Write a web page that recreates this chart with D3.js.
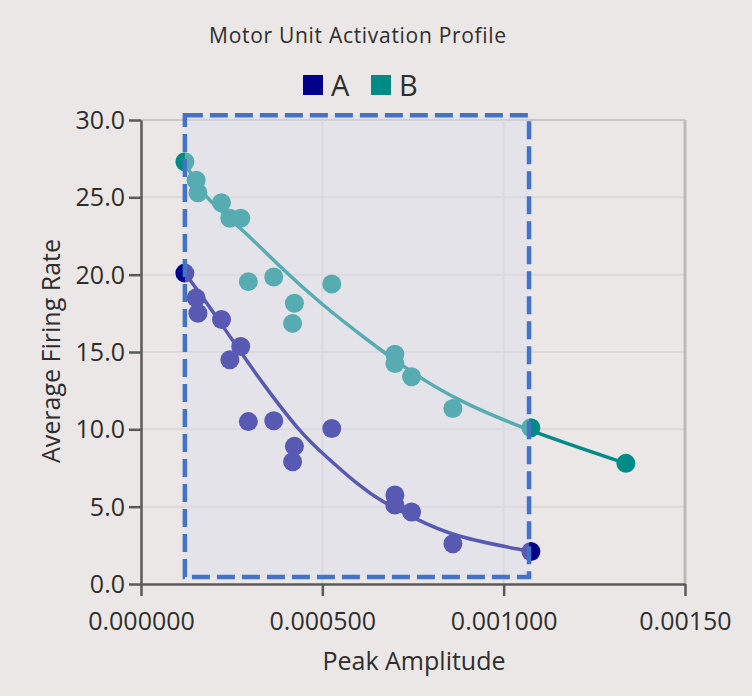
<!DOCTYPE html>
<html>
<head>
<meta charset="utf-8">
<script src="https://cdn.jsdelivr.net/npm/d3@7"></script>
<style>
  body { margin: 0; background: #ebe7e6; }
  text { font-family: "Open Sans", "Noto Sans", sans-serif; fill: #2e2e2e; }
</style>
</head>
<body>
<div id="app"></div>
<script>
const margin = { left: 141, top: 120, right: 67, bottom: 112 };
const bounds = {
    width: 752 - margin.left - margin.right,
    height: 696 - margin.top - margin.bottom
};

// data
const seriesNames = ["A", "B"];
const colors = { A: "#00008b", B: "#008b87" };
const peakAmp = [0.000121, 0.000152, 0.000157, 0.000222, 0.000245, 0.000275, 0.000296, 0.000366,
    0.000423, 0.000418, 0.000526, 0.000700, 0.000700, 0.000746, 0.000860, 0.001075, 0.001337];
const rateA = [20.1, 18.5, 17.5, 17.1, 14.5, 15.35, 10.5, 10.55, 8.9, 7.9, 10.05, 5.75, 5.1, 4.65, 2.6, 2.1];
const rateB = [27.3, 26.1, 25.3, 24.65, 23.65, 23.65, 19.55, 19.85, 18.15, 16.85, 19.4, 14.85, 14.25,
    13.4, 11.35, 10.1, 7.8];
// fitted trend lines
const trendAx = [0.000121, 0.00019, 0.000245, 0.000328, 0.000438, 0.000512, 0.000604, 0.000659, 0.00075, 0.00086, 0.001075];
const trendAy = [20.1, 17.9, 16.0, 13.2, 9.8, 8.2, 6.3, 5.4, 4.3, 3.05, 2.1];
const trendBx = [0.00012, 0.000172, 0.000273, 0.000383, 0.000494, 0.000622, 0.00075, 0.00087, 0.001063, 0.001337];
const trendBy = [27.3, 25.0, 23.1, 20.5, 18.15, 15.8, 13.6, 11.9, 9.95, 7.8];
// brush selection (data units)
const selX = [0.000121, 0.00107];
const selY = [0.45, 30.3];

const xTicks = [0, 0.0005, 0.001, 0.0015];
const xTickLabels = ["0.000000", "0.000500", "0.001000", "0.00150"];
const yTicks = [0, 5, 10, 15, 20, 25, 30];

const root = d3.select('#app')
    .append('svg')
    .attr('width', 752)
    .attr('height', 696)

root.append('rect').attr('width', 752).attr('height', 696).attr('fill', '#ebe7e6')

const svg = root.append('g')
    .attr('transform', `translate(${margin.left},${margin.top})`)

const xScale = d3.scaleLinear().domain([0, 0.0015]).range([0, bounds.width])
const yScale = d3.scaleLinear().domain([0, 30]).range([bounds.height, 0])

// grid
svg.selectAll('.hgrid').data(yTicks.filter(d => d > 0)).join('line')
    .attr('x1', 0).attr('x2', bounds.width)
    .attr('y1', d => yScale(d)).attr('y2', d => yScale(d))
    .attr('stroke', d => d === 30 ? '#c9c6c5' : '#dcd8d7')
    .attr('stroke-width', 2)
svg.selectAll('.vgrid').data(xTicks.filter(d => d > 0)).join('line')
    .attr('y1', 0).attr('y2', bounds.height)
    .attr('x1', d => xScale(d)).attr('x2', d => xScale(d))
    .attr('stroke', d => d === 0.0015 ? '#bdbab9' : '#dcd8d7')
    .attr('stroke-width', d => d === 0.0015 ? 3 : 2)

// axes
const xAxis = svg.append('g')
    .attr('transform', `translate(0,${bounds.height})`)
    .call(d3.axisBottom(xScale).tickValues(xTicks).tickSize(12).tickSizeOuter(0)
        .tickFormat((d, i) => xTickLabels[i]))
const yAxis = svg.append('g')
    .call(d3.axisLeft(yScale).tickValues(yTicks).tickSize(12).tickSizeOuter(0)
        .tickFormat(d3.format('.1f')))

;[xAxis, yAxis].forEach(a => {
    a.select('.domain').attr('stroke', '#5a5a5a').attr('stroke-width', 2.5)
    a.selectAll('.tick line').attr('stroke', '#5a5a5a').attr('stroke-width', 2.5)
    a.selectAll('.tick text').style('font-size', '25px').attr('fill', '#2e2e2e')
        .style('font-family', '"Open Sans", sans-serif')
})
xAxis.selectAll('.tick text').attr('y', 28).attr('dy', '0.71em')
yAxis.selectAll('.tick text').attr('x', -16).attr('dy', '0.34em')

// trend lines
const line = d3.line().x(d => xScale(d[0])).y(d => yScale(d[1])).curve(d3.curveBasis)
const trends = { A: d3.zip(trendAx, trendAy), B: d3.zip(trendBx, trendBy) }
seriesNames.slice().reverse().forEach(s => {
    svg.append('path')
        .attr('d', line(trends[s]))
        .attr('fill', 'none')
        .attr('stroke', colors[s])
        .attr('stroke-width', 3.5)
})

// points
const points = [
    ...rateA.map((v, i) => ({ s: 'A', x: peakAmp[i], y: v })),
    ...rateB.map((v, i) => ({ s: 'B', x: peakAmp[i], y: v }))
]
svg.selectAll('.dot').data(points).join('circle')
    .attr('class', 'dot')
    .attr('cx', d => xScale(d.x))
    .attr('cy', d => yScale(d.y))
    .attr('r', 9.5)
    .attr('fill', d => colors[d.s])

// brush selection overlay
svg.append('rect')
    .attr('x', xScale(selX[0]))
    .attr('y', yScale(selY[1]))
    .attr('width', xScale(selX[1]) - xScale(selX[0]))
    .attr('height', yScale(selY[0]) - yScale(selY[1]))
    .attr('fill', 'rgba(218,222,240,0.4)')
    .attr('stroke', '#4472c4')
    .attr('stroke-width', 4.5)
    .attr('stroke-dasharray', '18,7')

// title
root.append('text')
    .attr('x', 358).attr('y', 43)
    .attr('text-anchor', 'middle')
    .style('font-size', '21px')
    .style('letter-spacing', '0.7px')
    .text('Motor Unit Activation Profile')

// legend
const legend = root.append('g').selectAll('g').data(seriesNames).join('g')
    .attr('transform', (d, i) => `translate(${303 + i * 68},75)`)
legend.append('rect').attr('width', 20).attr('height', 20).attr('fill', d => colors[d])
legend.append('text').attr('x', 28).attr('y', 21).style('font-size', '29px').text(d => d)

// axis titles
root.append('text')
    .attr('x', 414).attr('y', 670)
    .attr('text-anchor', 'middle')
    .style('font-size', '25px')
    .text('Peak Amplitude')
root.append('text')
    .attr('transform', 'translate(60,351) rotate(-90)')
    .attr('text-anchor', 'middle')
    .style('font-size', '25px')
    .text('Average Firing Rate')
</script>
</body>
</html>
